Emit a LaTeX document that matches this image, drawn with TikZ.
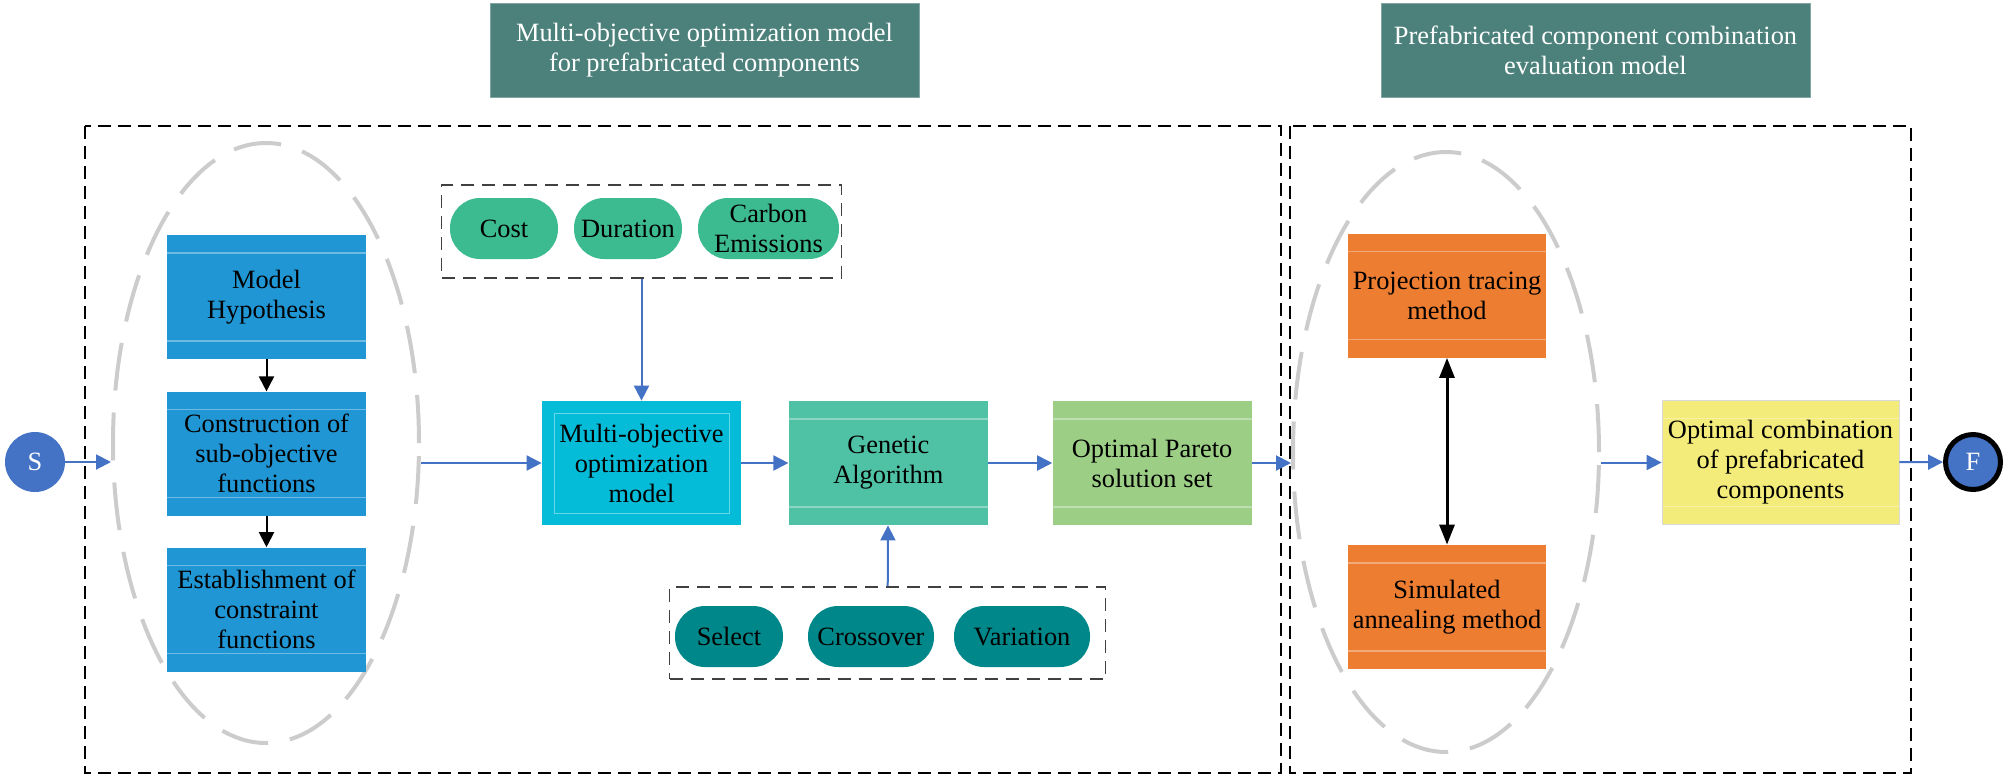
\documentclass[tikz,border=0pt]{standalone}
\usepackage{fontspec}
\setmainfont{Liberation Serif}
\usetikzlibrary{arrows.meta,positioning,shapes.geometric}

\definecolor{headgreen}{HTML}{4C817B}
\definecolor{procblue}{HTML}{2096D4}
\definecolor{modelcyan}{HTML}{04BCD8}
\definecolor{gagreen}{HTML}{4FC1A5}
\definecolor{paretogreen}{HTML}{9CCF85}
\definecolor{methodorange}{HTML}{EC7D31}
\definecolor{resultyellow}{HTML}{F4EC7A}
\definecolor{goalgreen}{HTML}{3CBB91}
\definecolor{opteal}{HTML}{00878A}
\definecolor{flowblue}{HTML}{4472C4}

\tikzset{
  header/.style={fill=headgreen, draw=headgreen!70!white, text=white, align=center,
    minimum width=214.5pt, minimum height=47pt},
  procbox/.style={align=center, inner sep=1pt, minimum width=99.5pt, minimum height=62pt},
  striped/.style={procbox, path picture={
    \draw[white, opacity=0.35, line width=0.6pt]
      ([yshift=-9pt]path picture bounding box.north west) -- ([yshift=-9pt]path picture bounding box.north east)
      ([yshift=9pt]path picture bounding box.south west) -- ([yshift=9pt]path picture bounding box.south east);}},
  inset/.style={procbox, path picture={
    \draw[white, opacity=0.4, line width=0.5pt]
      ([shift={(6pt,-6pt)}]path picture bounding box.north west) rectangle ([shift={(-6pt,6pt)}]path picture bounding box.south east);}},
  pill/.style={rounded corners=15pt, align=center, inner sep=1pt, minimum height=30.5pt},
  grp/.style={draw=black!75, line width=0.9pt, dash pattern=on 6.5pt off 4pt, inner sep=0pt},
  frame/.style={draw=black, line width=1.3pt, dash pattern=on 6.5pt off 3.5pt},
  oval/.style={ellipse, draw=black!20, line width=2pt, dash pattern=on 24pt off 11pt,
    inner sep=0pt, minimum width=153pt, minimum height=300pt},
  flow/.style={draw=flowblue, line width=1pt, -{Triangle[length=7.5pt,width=7.5pt]}},
  link/.style={line width=1pt, -{Triangle[length=7.5pt,width=7.5pt]}},
  endpt/.style={circle, fill=flowblue, text=white, inner sep=0pt}
}

\begin{document}
\begin{tikzpicture}[x=0.5pt, y=-0.5pt, every node/.append style={font=\fontsize{13.2pt}{15pt}\selectfont}]
\useasboundingbox (0,0) rectangle (2007,778);

% headers
\node[header] (headL) at (704.5,50) {Multi-objective optimization model\\for prefabricated components};
\node[header] (headR) at (1595.5,50) {Prefabricated component combination\\evaluation model};

% frames
\draw[frame] (85,126) rectangle (1281,773);
\draw[frame] (1290,126) rectangle (1911,773);

% left part
\node[endpt, minimum size=30pt] (S) at (35,462) {S};
\node[oval] (ovL) at (266,443) {};
\node[striped, fill=procblue] (hyp) at (266.5,297) {Model\\Hypothesis};
\node[striped, fill=procblue, below=16pt of hyp] (sub) {Construction of\\sub-objective\\functions};
\node[striped, fill=procblue, below=15.5pt of sub] (con) {Establishment of\\constraint\\functions};

% optimization chain
\node[inset, fill=modelcyan] (multi) at (641.5,463) {Multi-objective\\optimization\\model};
\node[striped, fill=gagreen, right=23.5pt of multi] (ga) {Genetic\\Algorithm};
\node[striped, fill=paretogreen, right=32pt of ga] (pareto) {Optimal Pareto\\solution set};

% objectives
\node[grp, minimum width=200pt, minimum height=46.5pt] (goals) at (641.5,231.5) {};
\node[pill, fill=goalgreen, minimum width=54pt] (cost) at (504,228.5) {Cost};
\node[pill, fill=goalgreen, minimum width=54pt] (dur) at (628,228.5) {Duration};
\node[pill, fill=goalgreen, minimum width=70.5pt] (carb) at (768.5,228.5) {Carbon\\Emissions};

% operators
\node[grp, minimum width=218pt, minimum height=46pt] (ops) at (887.5,633) {};
\node[pill, fill=opteal, minimum width=54pt] (sel) at (729,636.5) {Select};
\node[pill, fill=opteal, minimum width=63pt] (cross) at (871,636.5) {Crossover};
\node[pill, fill=opteal, minimum width=68pt] (vari) at (1022,636.5) {Variation};

% evaluation part
\node[oval] (ovR) at (1446,452) {};
\node[striped, fill=methodorange, minimum width=99pt] (proj) at (1447,295.5) {Projection tracing\\method};
\node[striped, fill=methodorange, minimum width=99pt] (anneal) at (1447,607) {Simulated\\annealing method};
\node[striped, fill=resultyellow, draw=black!15, minimum width=118.5pt] (best) at (1780.5,462.5) {Optimal combination\\of prefabricated\\components};
\node[endpt, draw=black, line width=2.5pt, minimum size=27.5pt] (F) at (1973,462) {F};

% connectors
\draw[flow] (S) -- (ovL.west |- S);
\draw[flow] (ovL.east |- multi) -- (multi);
\draw[flow] (goals) -- (multi);
\draw[flow] (multi) -- (ga);
\draw[flow] (ops) -- (ga);
\draw[flow] (ga) -- (pareto);
\draw[flow] (pareto) -- (ovR.west |- pareto);
\draw[flow] (ovR.east |- best) -- (best);
\draw[flow] (best) -- (F);
\draw[link] (hyp) -- (sub);
\draw[link] (sub) -- (con);
\draw[line width=1.5pt, {Triangle[length=10pt,width=7.5pt]}-{Triangle[length=10pt,width=7.5pt]}] (proj) -- (anneal);
\end{tikzpicture}
\end{document}
